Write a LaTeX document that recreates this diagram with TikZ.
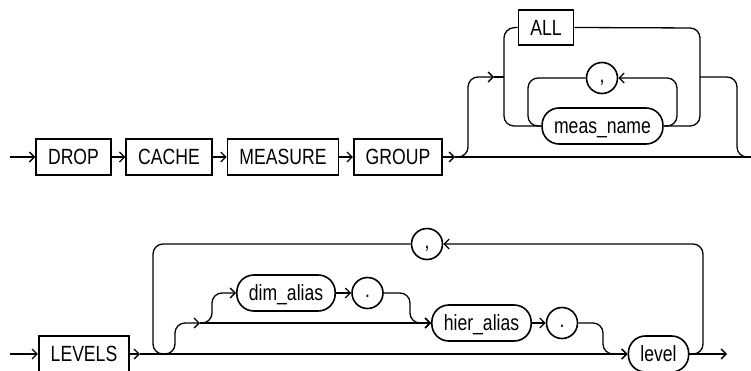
\documentclass[tikz,border=0pt]{standalone}
\usepackage{fontspec}
\setmainfont{Liberation Sans}[FakeStretch=0.8]
\usetikzlibrary{arrows.meta}

\begin{document}
\begin{tikzpicture}[x=1pt, y=-1pt,
    font=\fontsize{22}{26}\selectfont,
    line width=1.3pt,
    >={Straight Barb[length=5pt,width=10pt]},
    rail/.style={rounded corners=10pt},
    kw/.style={draw, line width=1.6pt, inner xsep=12pt, minimum height=36pt,
      text height=15.5pt, text depth=0pt},
    var/.style={kw, rounded corners=17pt},
    sym/.style={draw, circle, line width=1.6pt, minimum size=31pt, inner sep=0pt,
      text height=8pt, text depth=0pt}]
  \useasboundingbox (0,0) rectangle (751,370);
      \node[kw] (DROP) at (73.5,157) {DROP};
      \node[kw] (CACHE) at (169,157) {CACHE};
      \node[kw] (MEASURE) at (283,157) {MEASURE};
      \node[kw] (GROUP) at (398,157) {GROUP};
      \node[kw, minimum height=35pt] (ALL) at (546,27.5) {ALL};
      \node[var] (mname) at (602.5,126) {meas\_name};
      \node[sym] (mcomma) at (602,78) {,};
      \coordinate (in1) at (10,157);
      \coordinate (gsplit) at (455,157);
      \coordinate (out1) at (760,157);
      \draw[->] (in1) -- (DROP);
      \draw[->] (DROP) -- (CACHE);
      \draw[->] (CACHE) -- (MEASURE);
      \draw[->] (MEASURE) -- (GROUP);
      \draw[->] (GROUP) -- (gsplit);
      \draw (gsplit) -- (out1);
      \draw[rail, ->] (gsplit) -- (468,157) -- (468,77) -- (494,77);
      \draw (494,77) -- (504,77);
      \draw[rail] (ALL.west) -- (504,28) -- (504,126) -- (mname.west);
      \draw[rail] (ALL.east) -- (700,28) -- (700,126) -- (mname.east);
      \draw[rail, ->] (mname.east) -- (677,126) -- (677,78) -- (mcomma.east);
      \draw[rail] (mcomma.west) -- (528,78) -- (528,126) -- (mname.west);
      \draw[rail] (700,77) -- (737,77) -- (737,157) -- (out1);
      \node[kw] (LEVELS) at (84,354) {LEVELS};
      \node[var] (dim) at (286,293) {dim\_alias};
      \node[sym] (dimdot) at (367.5,293) {.};
      \node[var] (hier) at (481.5,323) {hier\_alias};
      \node[sym] (hierdot) at (562,323) {.};
      \node[var] (level) at (658.5,354) {level};
      \node[sym] (lcomma) at (427,244) {,};
      \coordinate (in2) at (10,354);
      \coordinate (lsplit) at (140,354);
      \coordinate (hsplit) at (200,323);
      \coordinate (out2) at (727,354);
      \draw[->] (in2) -- (LEVELS);
      \draw[->] (LEVELS) -- (lsplit);
      \draw[->] (lsplit) -- (level);
      \draw[rail] (lcomma.west) -- (153,244) -- (153,354) -- (165,354);
      \draw[rail, ->] (160,354) -- (175,354) -- (175,323) -- (hsplit);
      \draw[->] (hsplit) -- (hier.west);
      \draw[rail, ->] (hsplit) -- (212,323) -- (212,293) -- (dim.west);
      \draw[->] (dim) -- (dimdot);
      \draw[rail, ->] (dimdot.east) -- (410,293) -- (410,323) -- (hier.west);
      \draw[->] (hier) -- (hierdot);
      \draw[rail, ->] (hierdot.east) -- (603,323) -- (603,354) -- (level.west);
      \draw[->] (level.east) -- (out2);
      \draw[rail, ->] (level.east) -- (703,354) -- (703,244) -- (lcomma.east);
    \end{tikzpicture}
\end{document}
